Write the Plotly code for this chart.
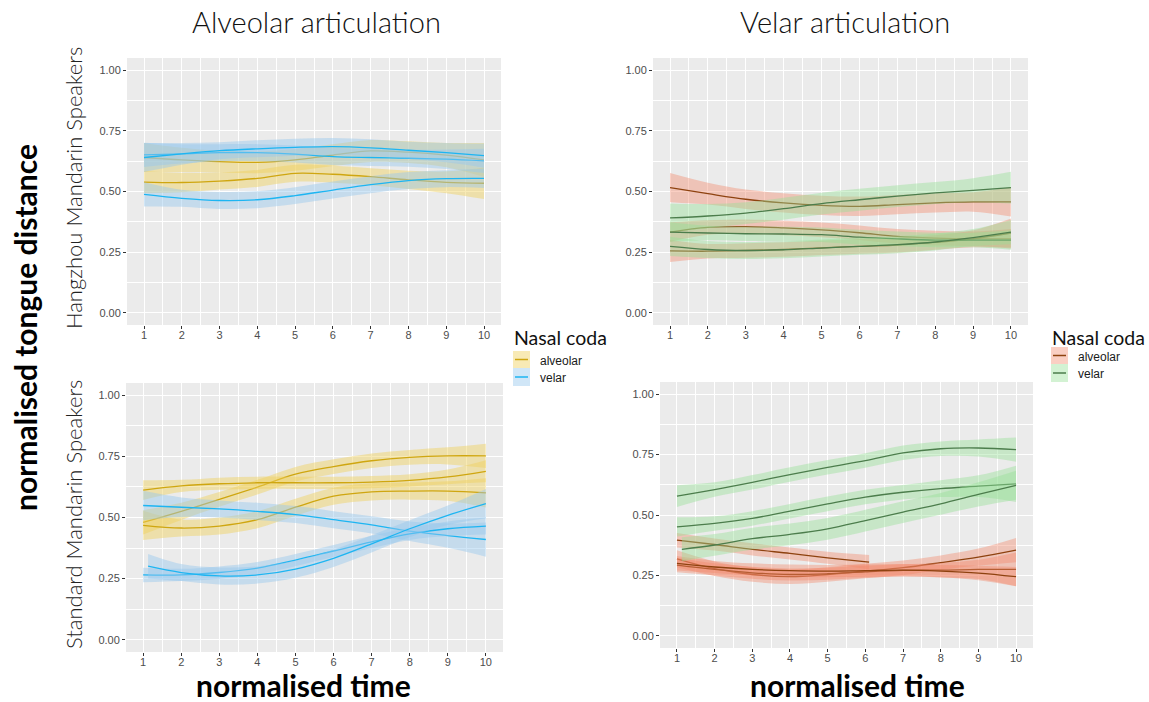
import plotly.graph_objects as go

W, H = 1149, 702

# ---------------- data ----------------
t = [1, 2, 3, 4, 5, 6, 7, 8, 9, 10]
t_late = [1.13, 2, 3, 4, 5, 6, 7, 8, 9, 10]
t_short = [1, 2, 3, 4, 5, 6.1]

# Hangzhou speakers, alveolar articulation
hz_alv_alv_mid = [[0.539, 0.537, 0.543, 0.554, 0.575, 0.571, 0.561, 0.548, 0.538, 0.534],
                  [0.640, 0.630, 0.623, 0.620, 0.630, 0.650, 0.667, 0.662, 0.650, 0.630]]
hz_alv_alv_hw = [[0.045, 0.040, 0.035, 0.035, 0.035, 0.035, 0.035, 0.038, 0.045, 0.065],
                 [0.060, 0.050, 0.045, 0.045, 0.045, 0.045, 0.045, 0.045, 0.050, 0.070]]
hz_alv_vel_mid = [[0.651, 0.655, 0.660, 0.660, 0.654, 0.644, 0.640, 0.637, 0.633, 0.626],
                  [0.640, 0.655, 0.668, 0.676, 0.682, 0.685, 0.680, 0.670, 0.660, 0.648],
                  [0.488, 0.472, 0.463, 0.466, 0.483, 0.506, 0.528, 0.545, 0.553, 0.554]]
hz_alv_vel_hw = [[0.050, 0.040, 0.035, 0.035, 0.035, 0.035, 0.035, 0.035, 0.040, 0.050],
                 [0.060, 0.045, 0.035, 0.035, 0.035, 0.035, 0.035, 0.035, 0.040, 0.050],
                 [0.050, 0.035, 0.035, 0.035, 0.035, 0.035, 0.035, 0.035, 0.035, 0.040]]

# Hangzhou speakers, velar articulation
hz_vel_alv_mid = [[0.516, 0.491, 0.468, 0.453, 0.443, 0.439, 0.446, 0.453, 0.457, 0.457],
                  [0.333, 0.352, 0.355, 0.350, 0.342, 0.330, 0.315, 0.308, 0.305, 0.305],
                  [0.255, 0.254, 0.257, 0.261, 0.268, 0.274, 0.279, 0.290, 0.305, 0.329]]
hz_vel_alv_hw = [[0.060, 0.045, 0.040, 0.040, 0.040, 0.040, 0.040, 0.040, 0.040, 0.060],
                 [0.040, 0.030, 0.030, 0.030, 0.030, 0.030, 0.030, 0.030, 0.030, 0.040],
                 [0.045, 0.030, 0.030, 0.030, 0.030, 0.030, 0.030, 0.030, 0.035, 0.060]]
hz_vel_vel_mid = [[0.391, 0.399, 0.411, 0.429, 0.450, 0.466, 0.481, 0.494, 0.505, 0.516],
                  [0.333, 0.329, 0.326, 0.325, 0.322, 0.312, 0.305, 0.300, 0.300, 0.300],
                  [0.274, 0.261, 0.257, 0.260, 0.267, 0.274, 0.281, 0.292, 0.310, 0.333]]
hz_vel_vel_hw = [[0.060, 0.050, 0.045, 0.045, 0.045, 0.045, 0.045, 0.045, 0.050, 0.065],
                 [0.040, 0.030, 0.030, 0.030, 0.030, 0.030, 0.030, 0.030, 0.030, 0.040],
                 [0.040, 0.035, 0.035, 0.035, 0.035, 0.035, 0.035, 0.035, 0.035, 0.050]]

# Standard speakers, alveolar articulation
sm_alv_alv_mid = [[0.480, 0.525, 0.574, 0.624, 0.677, 0.708, 0.732, 0.746, 0.752, 0.752],
                  [0.612, 0.629, 0.638, 0.642, 0.642, 0.642, 0.645, 0.652, 0.666, 0.689],
                  [0.468, 0.457, 0.465, 0.491, 0.542, 0.587, 0.605, 0.608, 0.608, 0.601]]
sm_alv_alv_hw = [[0.050, 0.035, 0.030, 0.030, 0.030, 0.030, 0.030, 0.030, 0.035, 0.050],
                 [0.040, 0.025, 0.025, 0.025, 0.025, 0.025, 0.025, 0.025, 0.030, 0.045],
                 [0.060, 0.035, 0.035, 0.035, 0.035, 0.035, 0.035, 0.035, 0.040, 0.060]]
sm_alv_vel_mid = [[0.549, 0.542, 0.535, 0.525, 0.512, 0.491, 0.470, 0.444, 0.426, 0.410],
                  [0.265, 0.265, 0.275, 0.293, 0.326, 0.363, 0.400, 0.433, 0.454, 0.465],
                  [0.301, 0.275, 0.261, 0.265, 0.289, 0.333, 0.392, 0.454, 0.509, 0.557]]
sm_alv_vel_hw = [[0.060, 0.040, 0.035, 0.035, 0.035, 0.035, 0.035, 0.040, 0.050, 0.070],
                 [0.030, 0.025, 0.025, 0.025, 0.025, 0.025, 0.025, 0.025, 0.030, 0.035],
                 [0.050, 0.035, 0.035, 0.035, 0.035, 0.035, 0.035, 0.035, 0.040, 0.060]]
sm_alv_vel_x = [t, t, t_late]

# Standard speakers, velar articulation
sm_vel_alv_mid = [[0.396, 0.378, 0.358, 0.341, 0.323, 0.305],
                  [0.319, 0.278, 0.254, 0.245, 0.254, 0.268, 0.282, 0.303, 0.326, 0.355],
                  [0.293, 0.275, 0.261, 0.254, 0.257, 0.265, 0.271, 0.272, 0.275, 0.275],
                  [0.300, 0.285, 0.275, 0.270, 0.268, 0.270, 0.272, 0.268, 0.260, 0.245]]
sm_vel_alv_hw = [[0.030, 0.025, 0.025, 0.025, 0.025, 0.030],
                 [0.035, 0.030, 0.030, 0.030, 0.030, 0.030, 0.030, 0.030, 0.035, 0.050],
                 [0.030, 0.025, 0.025, 0.025, 0.025, 0.025, 0.025, 0.030, 0.040, 0.070],
                 [0.030, 0.025, 0.025, 0.025, 0.025, 0.025, 0.025, 0.025, 0.030, 0.040]]
sm_vel_alv_x = [t_short, t, t, t]
sm_vel_vel_mid = [[0.578, 0.605, 0.635, 0.667, 0.697, 0.725, 0.757, 0.774, 0.777, 0.770],
                  [0.451, 0.465, 0.486, 0.516, 0.546, 0.574, 0.594, 0.609, 0.619, 0.629],
                  [0.358, 0.376, 0.402, 0.420, 0.443, 0.477, 0.512, 0.546, 0.585, 0.623]]
sm_vel_vel_hw = [[0.045, 0.030, 0.030, 0.030, 0.030, 0.030, 0.030, 0.030, 0.035, 0.050],
                 [0.040, 0.030, 0.030, 0.030, 0.030, 0.030, 0.030, 0.035, 0.045, 0.075],
                 [0.050, 0.045, 0.045, 0.045, 0.045, 0.045, 0.045, 0.045, 0.050, 0.060]]
sm_vel_vel_x = [t, t, t_late]

x_ticks = [1, 2, 3, 4, 5, 6, 7, 8, 9, 10]
y_ticks = [0.0, 0.25, 0.5, 0.75, 1.0]
col_titles = ["Alveolar articulation", "Velar articulation"]
row_titles = ["Hangzhou Mandarin Speakers", "Standard Mandarin Speakers"]
x_title = "normalised time"
y_title = "normalised tongue distance"
legend_title = "Nasal coda"
legend_labels = ["alveolar", "velar"]

# ---------------- styles ----------------
left_cols = {"alv": ("#CFA610", "rgba(240,208,90,0.45)"),
             "vel": ("#1DB5F2", "rgba(150,200,238,0.45)")}
right_cols = {"alv": ("#8E420F", "rgba(242,135,105,0.40)"),
              "vel": ("#4C7D4C", "rgba(150,225,150,0.42)")}

# panel pixel boxes: (left, right, top, bottom)
boxes = [(127, 501, 58, 325), (653, 1028, 58, 325),
         (126, 503, 383, 652), (660, 1033, 382, 648)]

fig = go.Figure()


def add_group(ax, xs_list, mids, hws, cols):
    line_c, fill_c = cols
    xa = "x" if ax == 1 else f"x{ax}"
    ya = "y" if ax == 1 else f"y{ax}"
    for xs, mid, hw in zip(xs_list, mids, hws):
        hi = [m + h for m, h in zip(mid, hw)]
        lo = [m - h for m, h in zip(mid, hw)]
        fig.add_trace(go.Scatter(x=xs, y=hi, mode="lines", line=dict(width=0, shape="spline"),
                                 xaxis=xa, yaxis=ya, showlegend=False, hoverinfo="skip"))
        fig.add_trace(go.Scatter(x=xs, y=lo, mode="lines", line=dict(width=0, shape="spline"),
                                 fill="tonexty", fillcolor=fill_c,
                                 xaxis=xa, yaxis=ya, showlegend=False, hoverinfo="skip"))
        fig.add_trace(go.Scatter(x=xs, y=mid, mode="lines",
                                 line=dict(width=1.3, color=line_c, shape="spline"),
                                 xaxis=xa, yaxis=ya, showlegend=False))


add_group(1, [t, t], hz_alv_alv_mid, hz_alv_alv_hw, left_cols["alv"])
add_group(1, [t, t, t], hz_alv_vel_mid, hz_alv_vel_hw, left_cols["vel"])
add_group(2, [t, t, t], hz_vel_alv_mid, hz_vel_alv_hw, right_cols["alv"])
add_group(2, [t, t, t], hz_vel_vel_mid, hz_vel_vel_hw, right_cols["vel"])
add_group(3, [t, t, t], sm_alv_alv_mid, sm_alv_alv_hw, left_cols["alv"])
add_group(3, sm_alv_vel_x, sm_alv_vel_mid, sm_alv_vel_hw, left_cols["vel"])
add_group(4, sm_vel_alv_x, sm_vel_alv_mid, sm_vel_alv_hw, right_cols["alv"])
add_group(4, sm_vel_vel_x, sm_vel_vel_mid, sm_vel_vel_hw, right_cols["vel"])

tick_font = dict(family="Liberation Sans, Arial, sans-serif", size=11, color="#4D4D4D")
layout = dict(width=W, height=H, margin=dict(l=0, r=0, t=0, b=0),
              paper_bgcolor="white", plot_bgcolor="#EBEBEB", showlegend=False)

for i, (l, r, tp, b) in enumerate(boxes, start=1):
    sfx = "" if i == 1 else str(i)
    layout[f"xaxis{sfx}"] = dict(
        domain=[l / W, r / W], anchor=f"y{sfx}", range=[0.55, 10.45],
        tickvals=x_ticks, ticktext=[str(v) for v in x_ticks],
        showgrid=True, gridcolor="white", gridwidth=1.1, zeroline=False,
        ticks="outside", ticklen=3, tickcolor="#333333", tickwidth=1,
        tickfont=tick_font, showline=False, ticklabelstandoff=-3,
        minor=dict(showgrid=True, gridcolor="white", gridwidth=0.5, dtick=0.5, tick0=1.5, ticks=""))
    layout[f"yaxis{sfx}"] = dict(
        domain=[1 - b / H, 1 - tp / H], anchor=f"x{sfx}", range=[-0.05, 1.05],
        tickvals=y_ticks, ticktext=[f"{v:.2f}" for v in y_ticks],
        showgrid=True, gridcolor="white", gridwidth=1.1, zeroline=False,
        ticks="outside", ticklen=3, tickcolor="#333333", tickwidth=1,
        tickfont=tick_font, showline=False,
        minor=dict(showgrid=True, gridcolor="white", gridwidth=0.5, dtick=0.125, tick0=0.125, ticks=""))

fig.update_layout(**layout)

ann = []
shapes = []
light = dict(family="Lato, Noto Sans, sans-serif", size=29, color="#111111", weight=300)
bold_x = dict(family="Lato, Noto Sans, sans-serif", size=30, color="#000000", weight=700)
bold_y = dict(family="Lato, Noto Sans, sans-serif", size=30, color="#000000", weight=700)
rowf = dict(family="Lato, Noto Sans, sans-serif", size=22, color="#222222", weight=300)

ann.append(dict(text=col_titles[0], x=316 / W, y=1 - 21 / H, font=light))
ann.append(dict(text=col_titles[1], x=845 / W, y=1 - 21 / H, font=light))
ann.append(dict(text=x_title, x=303 / W, y=1 - 685 / H, font=bold_x))
ann.append(dict(text=x_title, x=857 / W, y=1 - 685 / H, font=bold_x))
ann.append(dict(text=y_title, x=25 / W, y=1 - 328 / H, font=bold_y, textangle=-90))
ann.append(dict(text=row_titles[0], x=73 / W, y=1 - 188 / H, font=rowf, textangle=-90))
ann.append(dict(text=row_titles[1], x=73 / W, y=1 - 515 / H, font=rowf, textangle=-90))

# legends
leg_title_font = dict(family="Lato, Noto Sans, sans-serif", size=19.5, color="#111111")
leg_lab_font = dict(family="Liberation Sans, Arial, sans-serif", size=12, color="#1A1A1A")
legends = [(512, 338, [(351, 368), (368, 386)], left_cols),
           (1050, 337, [(347, 364), (364, 382)], right_cols)]
for lx, ty, keys, cols in legends:
    ann.append(dict(text=legend_title, x=lx / W, y=1 - ty / H, xanchor="left", font=leg_title_font))
    for (k0, k1), lab, key in zip(keys, legend_labels, ["alv", "vel"]):
        shapes.append(dict(type="rect", xref="paper", yref="paper",
                           x0=(lx + 1) / W, x1=(lx + 18) / W, y0=1 - k1 / H, y1=1 - k0 / H,
                           fillcolor=cols[key][1], line=dict(width=0)))
        ym = (k0 + k1) / 2
        shapes.append(dict(type="line", xref="paper", yref="paper",
                           x0=(lx + 3) / W, x1=(lx + 16) / W, y0=1 - ym / H, y1=1 - ym / H,
                           line=dict(color=cols[key][0], width=1.5)))
        ann.append(dict(text=lab, x=(lx + 26) / W, y=1 - (ym + 1) / H, xanchor="left", font=leg_lab_font))

for a in ann:
    a.setdefault("xref", "paper")
    a.setdefault("yref", "paper")
    a.setdefault("showarrow", False)
    a.setdefault("xanchor", "center")
    a.setdefault("yanchor", "middle")
fig.update_layout(annotations=ann, shapes=shapes)

fig.write_html("out.html", config={"displayModeBar": False},
               post_script="document.body.style.margin='0';document.body.style.padding='0';"
                           "document.body.style.overflow='hidden';")
